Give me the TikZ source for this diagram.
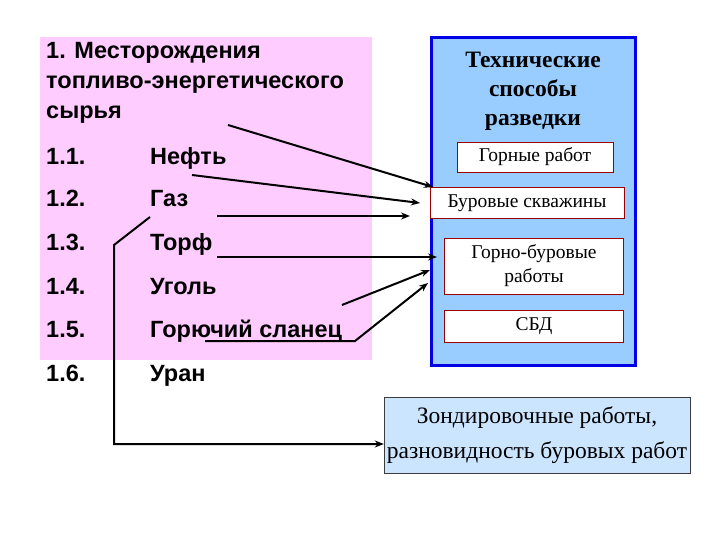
\documentclass[tikz,border=0pt]{standalone}
\usepackage{fontspec}
\setmainfont{Liberation Serif}
\newfontfamily\arialf{Liberation Sans}
\usetikzlibrary{arrows.meta}
\begin{document}
\begin{tikzpicture}[x=1pt,y=-1pt,
  lt/.style={font=\arialf\bfseries\fontsize{23.5}{26}\selectfont,anchor=base west,inner sep=0},
  wbox/.style={draw=red!60!black,fill=white,font=\fontsize{19.5}{24}\selectfont,align=center,line width=0.8pt,inner sep=1pt},
  arr/.style={line width=2pt,-{Stealth[length=9pt,width=7pt]}}]
\useasboundingbox (0,0) rectangle (720,540);
\fill[fill={rgb,255:red,255;green,204;blue,255}] (40,37) rectangle (372,360);
\draw[draw={rgb,255:red,0;green,0;blue,230},line width=3pt,fill={rgb,255:red,153;green,204;blue,255}] (431,38) rectangle (635,365);
\node[align=center,font=\bfseries\fontsize{23.5}{29}\selectfont] (tt) at (533,91) {Технические\\способы\\разведки};
\node[wbox,minimum width=156,minimum height=30] (b1) at (535,157) {Горные работ};
\node[wbox,minimum width=194,minimum height=31] (b2) at (527,203) {Буровые скважины};
\node[wbox,minimum width=179,minimum height=56] (b3) at (534,266) {Горно-буровые\\работы};
\node[wbox,minimum width=179,minimum height=32] (b4) at (534,326) {СБД};
\node[draw={rgb,255:red,60;green,60;blue,60},fill={rgb,255:red,204;green,229;blue,255},minimum width=306,minimum height=76,align=center,inner sep=0,font=\fontsize{23.5}{35}\selectfont] (zb) at (537,435) {Зондировочные работы,\\разновидность буровых работ};
\node[lt,anchor=west,align=left,font=\arialf\bfseries\fontsize{23.5}{30}\selectfont] (h) at (46,83) {1. Месторождения\\топливо-энергетического\\сырья};
\foreach \n/\y/\t in {1/165/Нефть,2/207/Газ,3/250/Торф,4/294/Уголь,5/337/Горючий сланец,6/381/Уран}{
  \node[lt] (n\n) at (46,\y) {1.\n.};
  \node[lt] (t\n) at (150,\y) {\t};
}
\coordinate (s1) at (228,125); \coordinate (e1) at (433,187);
\coordinate (s2) at (192,175); \coordinate (e2) at (420,203);
\coordinate (s3) at (217,216); \coordinate (e3) at (410,216);
\coordinate (s4) at (217,257); \coordinate (e4) at (437,257);
\coordinate (s5) at (342,305); \coordinate (e5) at (430,270);
\coordinate (s6) at (205,341); \coordinate (m6) at (355,341); \coordinate (e6) at (428,283);
\coordinate (s7) at (150,217); \coordinate (m7) at (114,245); \coordinate (k7) at (114,444);
\draw[arr] (s1) -- (e1);
\draw[arr] (s2) -- (e2);
\draw[arr] (s3) -- (e3);
\draw[arr] (s4) -- (e4);
\draw[arr] (s5) -- (e5);
\draw[arr] (s6) -- (m6) -- (e6);
\draw[arr] (s7) -- (m7) -- (k7) -- (zb.west |- k7);
\end{tikzpicture}
\end{document}
